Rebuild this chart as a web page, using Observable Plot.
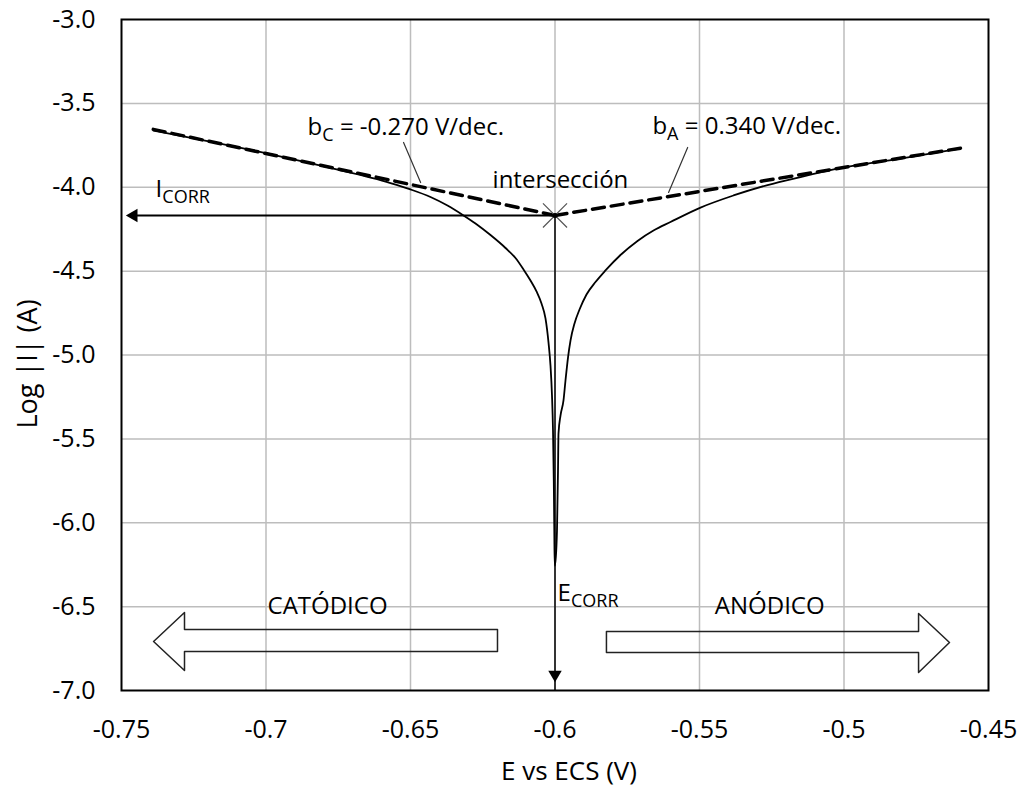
<!DOCTYPE html>
<html><head><meta charset="utf-8">
<script src="https://cdn.jsdelivr.net/npm/d3@7"></script>
<script src="https://cdn.jsdelivr.net/npm/@observablehq/plot@0.6"></script>
<style>body{margin:0;background:#fff}</style>
</head><body><div id="chart"></div>
<script>
// Axis ticks
const xTicks = [-0.75, -0.7, -0.65, -0.6, -0.55, -0.5, -0.45];
const yTicks = [-7, -6.5, -6, -5.5, -5, -4.5, -4, -3.5, -3];

// Polarization curve: cathodic branch
const E_cat = [-0.73893, -0.70017, -0.67768, -0.65692, -0.65000, -0.64308, -0.63720, -0.63166, -0.62751, -0.62232, -0.61713, -0.61367, -0.61090, -0.60848, -0.60640, -0.60467, -0.60329, -0.60225, -0.60156, -0.60104, -0.60069, -0.60042, -0.60024, -0.60010];
const logI_cat = [-3.662, -3.796, -3.885, -3.975, -4.013, -4.058, -4.109, -4.168, -4.216, -4.285, -4.362, -4.422, -4.490, -4.556, -4.621, -4.693, -4.782, -4.925, -5.063, -5.241, -5.450, -5.748, -6.046, -6.255];
// anodic branch
const E_an = [-0.59997, -0.59931, -0.59896, -0.59879, -0.59810, -0.59706, -0.59637, -0.59550, -0.59464, -0.59325, -0.59152, -0.58910, -0.58599, -0.58253, -0.57734, -0.57145, -0.56592, -0.56004, -0.54965, -0.53824, -0.52647, -0.51505, -0.50087, -0.48045, -0.45970];
const logI_an = [-6.255, -6.046, -5.689, -5.468, -5.361, -5.271, -5.152, -5.015, -4.914, -4.812, -4.729, -4.639, -4.565, -4.496, -4.404, -4.320, -4.258, -4.207, -4.121, -4.049, -3.987, -3.939, -3.885, -3.829, -3.769];

// Tafel extrapolations
const tafelC_E = [-0.739, -0.6];
const tafelC_logI = [-3.655, -4.168];
const tafelA_E = [-0.6, -0.4597];
const tafelA_logI = [-4.168, -3.767];

// Corrosion point
const E_corr = -0.6;
const logI_corr = -4.168;
const icorrArrowE = -0.7458;
const ecorrArrowLogI = -6.905;

// Leader lines
const leaderC_E = [-0.6524, -0.6465];
const leaderC_logI = [-3.733, -3.972];
const leaderA_E = [-0.5541, -0.5607];
const leaderA_logI = [-3.763, -4.031];

// Block arrows (outline vertices)
const catArrowE = [-0.7389, -0.7282, -0.7282, -0.6199, -0.6199, -0.7282, -0.7282, -0.7389];
const catArrowLogI = [-6.708, -6.535, -6.636, -6.636, -6.767, -6.767, -6.881, -6.708];
const anArrowE = [-0.5822, -0.4742, -0.4742, -0.4635, -0.4742, -0.4742, -0.5822, -0.5822];
const anArrowLogI = [-6.648, -6.648, -6.541, -6.714, -6.893, -6.773, -6.773, -6.648];

// Labels
const labelText = ["b_C = -0.270 V/dec.", "b_A = 0.340 V/dec.", "intersección", "I_CORR", "E_CORR"];
const labelE = [-0.6856, -0.5663, -0.6216, -0.7382, -0.5991];
const labelLogI = [-3.686, -3.680, -4.007, -4.061, -6.469];
const regionText = ["CATÓDICO", "ANÓDICO"];
const regionE = [-0.6787, -0.5257];
const regionLogI = [-6.541, -6.541];

const zipXY = (xs, ys) => xs.map((x, i) => ({E: x, logI: ys[i]}));
const curve = zipXY(E_cat.concat(E_an), logI_cat.concat(logI_an));
const labels = labelText.map((t, i) => ({t, E: labelE[i], logI: labelLogI[i]}));
const regions = regionText.map((t, i) => ({t, E: regionE[i], logI: regionLogI[i]}));

const plot = Plot.plot({
  width: 1019,
  height: 789,
  marginLeft: 121,
  marginRight: 31,
  marginTop: 19,
  marginBottom: 99,
  style: {fontFamily: "'Open Sans', sans-serif", fontSize: "24px", color: "black", background: "white"},
  x: {domain: [-0.75, -0.45]},
  y: {domain: [-7, -3]},
  marks: [
    Plot.gridX(xTicks.slice(1, -1), {stroke: "#bdbdbd", strokeOpacity: 1, strokeWidth: 1.5}),
    Plot.gridY(yTicks.slice(1, -1), {stroke: "#bdbdbd", strokeOpacity: 1, strokeWidth: 1.5}),
    Plot.line(zipXY(catArrowE, catArrowLogI), {x: "E", y: "logI", stroke: "#222", strokeWidth: 1.5}),
    Plot.line(zipXY(anArrowE, anArrowLogI), {x: "E", y: "logI", stroke: "#222", strokeWidth: 1.5}),
    Plot.line(zipXY(tafelC_E, tafelC_logI), {x: "E", y: "logI", stroke: "black", strokeWidth: 3.5, strokeDasharray: "12,7"}),
    Plot.line(zipXY(tafelA_E, tafelA_logI), {x: "E", y: "logI", stroke: "black", strokeWidth: 3.5, strokeDasharray: "12,7"}),
    Plot.line(curve, {x: "E", y: "logI", stroke: "black", strokeWidth: 1.8, curve: "monotone-x"}),
    Plot.ruleX([E_corr], {y1: logI_corr, y2: -7, stroke: "black", strokeWidth: 1.5}),
    Plot.ruleY([logI_corr], {x1: icorrArrowE, x2: E_corr, stroke: "black", strokeWidth: 2}),
    Plot.dot([{E: E_corr, logI: ecorrArrowLogI}], {x: "E", y: "logI", symbol: "triangle", r: 5, fill: "black", rotate: 180}),
    Plot.dot([{E: icorrArrowE, logI: logI_corr}], {x: "E", y: "logI", symbol: "triangle", r: 5, fill: "black", rotate: -90}),
    Plot.dot([{E: E_corr, logI: logI_corr}], {x: "E", y: "logI", symbol: "times", r: 11, stroke: "#555", strokeWidth: 1.2}),
    Plot.dot([{E: E_corr, logI: logI_corr}], {x: "E", y: "logI", r: 2.5, fill: "black"}),
    Plot.line(zipXY(leaderC_E, leaderC_logI), {x: "E", y: "logI", stroke: "#333", strokeWidth: 1.2}),
    Plot.line(zipXY(leaderA_E, leaderA_logI), {x: "E", y: "logI", stroke: "#333", strokeWidth: 1.2}),
    Plot.text(labels, {x: "E", y: "logI", text: "t", textAnchor: "start", lineAnchor: "bottom", fontSize: 24, fill: "black"}),
    Plot.text(regions, {x: "E", y: "logI", text: "t", textAnchor: "middle", lineAnchor: "bottom", fontSize: 24, fill: "black"}),
    Plot.frame({stroke: "black", strokeWidth: 2}),
    Plot.axisX(xTicks, {tickSize: 0, tickPadding: 30, tickFormat: d => String(+d.toFixed(2)), label: null, fontSize: 25}),
    Plot.axisY(yTicks, {tickSize: 0, tickPadding: 26, tickFormat: d => d.toFixed(1), label: null, fontSize: 25}),
    Plot.text(["E vs ECS (V)"], {text: d => d, frameAnchor: "bottom", textAnchor: "middle", dx: 14, dy: 81, lineAnchor: "middle", fontSize: 26}),
    Plot.text(["Log |I| (A)"], {text: d => d, frameAnchor: "left", textAnchor: "middle", dx: -93, dy: 9, rotate: -90, lineAnchor: "middle", fontSize: 27})
  ]
});

document.getElementById("chart").appendChild(plot);

// Turn "_XYZ" into subscripts
d3.select(plot).selectAll("text").each(function () {
  const t = this.textContent;
  const m = t.match(/^(.*?)_([A-Z]+)(.*)$/);
  if (!m) return;
  const sel = d3.select(this);
  sel.text(null);
  sel.append("tspan").text(m[1]);
  sel.append("tspan").attr("font-size", "75%").attr("dy", "6").text(m[2]);
  if (m[3]) sel.append("tspan").attr("dy", "-6").text(m[3]);
});
</script>
</body></html>
